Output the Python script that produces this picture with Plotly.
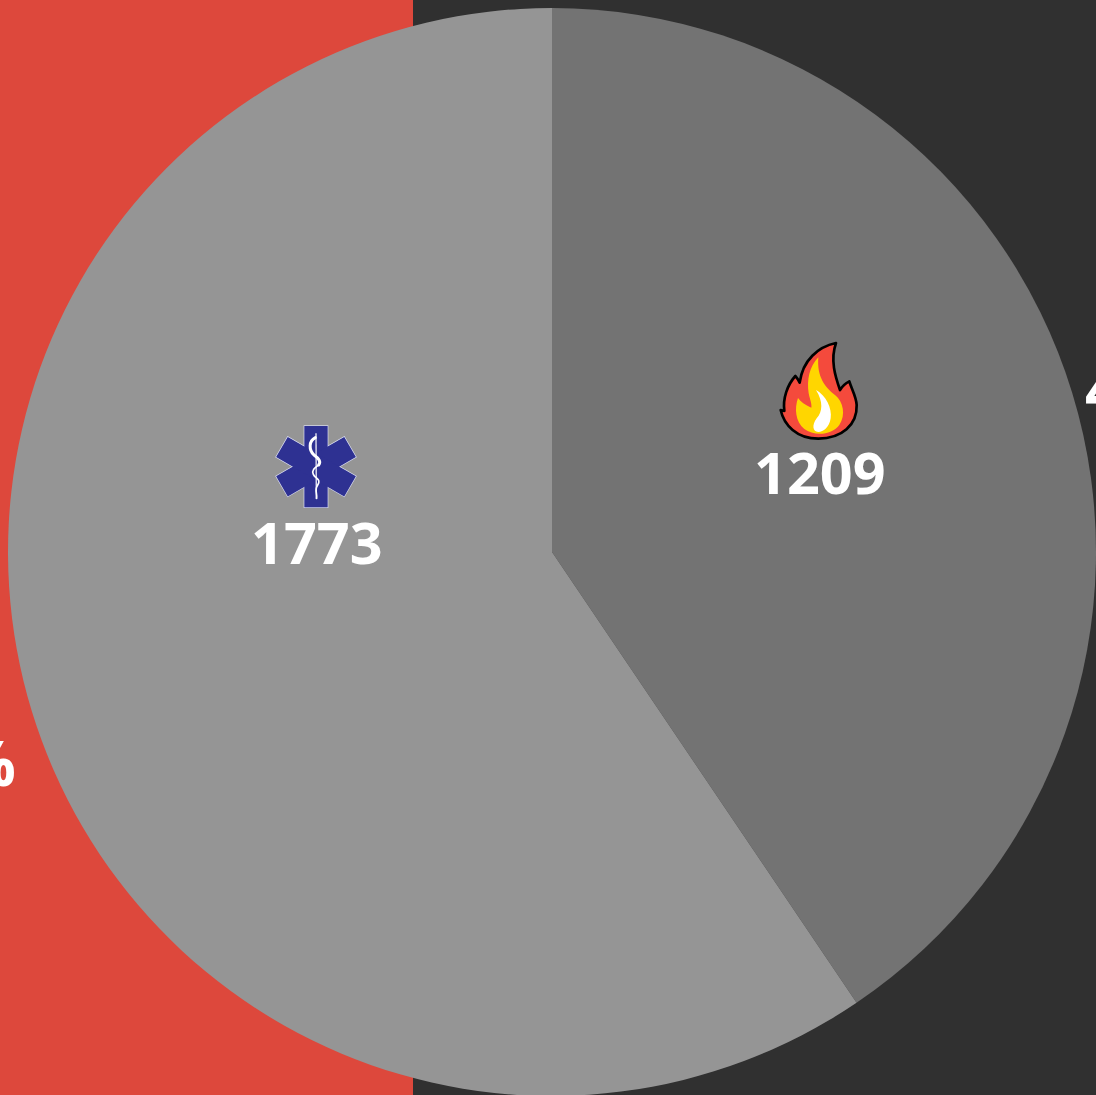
import base64
import plotly.graph_objects as go

W, H = 1096, 1096
categories = ["Fire", "EMS"]
values = [1209, 1773]
shares = ["41%", "59%"]
slice_colors = ["#737373", "#959595"]

FLAME = """<svg xmlns="http://www.w3.org/2000/svg" viewBox="0 0 420 360" width="140" height="120">
<path d="M228 39 C175 50 128 90 119 158 C115 150 110 142 106 138 C82 165 68 205 73 243 L62 240 C72 285 110 326 175 326 C245 326 292 285 290 225 C289 200 275 178 268 154 C256 160 246 170 240 180 C226 140 210 90 228 39 Z" fill="#F44A3C" stroke="#000" stroke-width="8" stroke-linejoin="round"/>
<path d="M175 82 C148 110 140 150 146 190 C150 210 156 222 154 233 C135 225 122 215 114 204 C103 235 106 275 133 297 C163 320 217 315 238 285 C258 255 250 215 225 195 C195 172 170 140 175 82 Z" fill="#FFD600"/>
<path d="M168 180 C197 195 217 235 212 265 C208 292 190 306 175 306 C158 306 155 285 170 265 C188 245 190 215 168 180 Z" fill="#FFFFFF"/>
</svg>"""

rects = [
    (133, 33, 244, 0),
    (133, 37, 236, 60),
    (133, 37, 236, 120),
]
arm = '<rect x="{x}" y="{y}" width="70" height="{h}" transform="rotate({a} 168 155)" {s}/>'
outline = "".join(arm.format(x=x, y=y, h=h, a=a, s='fill="#2E3192" stroke="#DDE0F5" stroke-width="4"') for x, y, h, a in rects)
fill = "".join(arm.format(x=x, y=y, h=h, a=a, s='fill="#2E3192"') for x, y, h, a in rects)
STAR = f"""<svg xmlns="http://www.w3.org/2000/svg" viewBox="0 0 330 300" width="110" height="100">
{outline}
{fill}
<path d="M168 55 L169 252" stroke="#E8E8F4" stroke-width="4" fill="none"/>
<path d="M166 68 C146 78 146 105 162 120 C176 130 184 140 176 150" stroke="#FFFFFF" stroke-width="9" fill="none" stroke-linecap="round"/>
<path d="M176 150 C165 158 154 165 160 178 C166 192 186 192 172 212 C163 224 172 236 170 250" stroke="#FFFFFF" stroke-width="5" fill="none" stroke-linecap="round"/>
</svg>"""


def uri(svg):
    return "data:image/svg+xml;base64," + base64.b64encode(svg.encode()).decode()


def fx(px):
    return px / W


def fy(px):
    return 1 - px / H


fig = go.Figure(
    go.Pie(
        labels=categories,
        values=values,
        marker=dict(colors=slice_colors, line=dict(width=0)),
        sort=False,
        direction="clockwise",
        rotation=0,
        textinfo="none",
        hoverinfo="label+value",
        showlegend=False,
        domain=dict(x=[fx(8), 1], y=[0, fy(8)]),
    )
)

FONT = "Open Sans"
annotations = [
    dict(x=fx(819.5), y=fy(472.5), text=f"<b>{values[0]}</b>", xanchor="center", yanchor="middle", size=57.5),
    dict(x=fx(317), y=fy(542), text=f"<b>{values[1]}</b>", xanchor="center", yanchor="middle", size=57.5),
    dict(x=fx(1084), y=fy(389), text=f"<b>{shares[0]}</b>", xanchor="left", yanchor="middle", size=62),
    dict(x=fx(17), y=fy(762), text=f"<b>{shares[1]}</b>", xanchor="right", yanchor="middle", size=62),
]
for a in annotations:
    size = a.pop("size")
    fig.add_annotation(xref="paper", yref="paper", showarrow=False, borderpad=0,
                       font=dict(family=FONT, size=size, color="#FFFFFF"), **a)

fig.update_layout(
    width=W,
    height=H,
    margin=dict(l=0, r=0, t=0, b=0),
    paper_bgcolor="#303030",
    shapes=[
        dict(type="rect", xref="paper", yref="paper", x0=0, x1=fx(413), y0=0, y1=1,
             fillcolor="#DD483C", line_width=0, layer="below"),
    ],
    images=[
        dict(source=uri(FLAME), xref="paper", yref="paper", x=fx(760), y=fy(330),
             sizex=140 / W, sizey=120 / H, xanchor="left", yanchor="top", sizing="stretch", layer="above"),
        dict(source=uri(STAR), xref="paper", yref="paper", x=fx(260), y=fy(415),
             sizex=110 / W, sizey=100 / H, xanchor="left", yanchor="top", sizing="stretch", layer="above"),
    ],
)

fig.write_html(
    "out.html",
    config=dict(displayModeBar=False),
    post_script="document.body.style.margin='0';document.body.style.overflow='hidden';",
)
